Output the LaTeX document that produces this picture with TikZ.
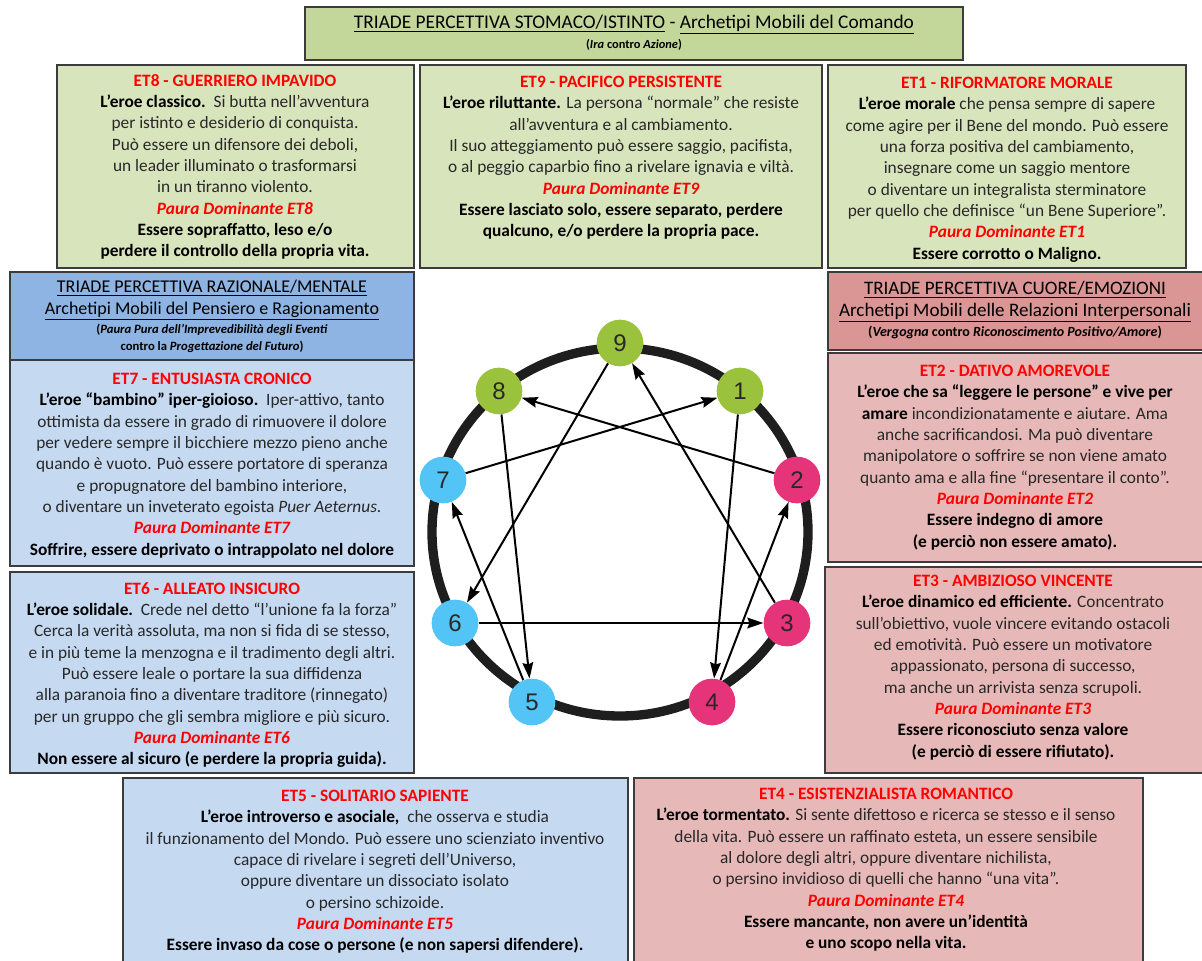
\documentclass[tikz,border=0pt]{standalone}
\usepackage{fontspec}
\setmainfont{Carlito}
\newfontfamily\numfont{Liberation Sans}
\usetikzlibrary{arrows.meta}
\definecolor{greenheadcolor}{RGB}{196,215,155}
\definecolor{greencolor}{RGB}{216,228,188}
\definecolor{blueheadcolor}{RGB}{141,180,226}
\definecolor{bluecolor}{RGB}{197,217,241}
\definecolor{pinkheadcolor}{RGB}{218,150,148}
\definecolor{pinkcolor}{RGB}{230,184,183}
\definecolor{framecolor}{RGB}{60,60,60}
\definecolor{textcolor}{RGB}{40,40,40}
\definecolor{etred}{RGB}{255,0,0}
\definecolor{ninegreen}{RGB}{155,194,60}
\definecolor{ninepink}{RGB}{229,52,121}
\definecolor{ninecyan}{RGB}{82,196,245}
\definecolor{ringcolor}{RGB}{30,30,30}

\newcommand{\etname}[1]{{\color{etred}\bfseries #1}}
\newcommand{\paura}[1]{{\color{etred}\bfseries\itshape Paura Dominante #1}}
\newcommand{\hero}[1]{{\color{black}\bfseries #1}}

\tikzset{
  boxframe/.style={draw=framecolor, line width=1.1pt},
  boxtext/.style={anchor=north, align=center, inner sep=0pt, text=textcolor,
    font=\fontsize{13}{16}\selectfont},
  headtext/.style={anchor=north, align=center, inner sep=0pt, text=black},
  subtext/.style={anchor=north, align=center, inner sep=0pt, text=black},
  ennea/.style={circle, minimum size=35pt, inner sep=0pt, text=textcolor,
    font=\numfont\fontsize{18}{18}\selectfont},
  link/.style={-{Stealth[length=12pt, width=8pt, inset=1.5pt]}, line width=1.5pt, black},
}

\begin{document}
\begin{tikzpicture}[x=0.75pt, y=-0.75pt]
\path[use as bounding box, fill=white] (0,0) rectangle (1202,960);

% Triade dello stomaco
\draw[boxframe, fill=greenheadcolor] (305,7) rectangle (963,60);
\node[headtext, font=\fontsize{14.5}{17}\selectfont] (stomaco) at (634,15)
  {\underline{TRIADE PERCETTIVA STOMACO/ISTINTO} - \underline{Archetipi Mobili del Comando}};
\node[subtext, font=\fontsize{9.3}{12}\selectfont\bfseries] (stomacosub) at (634,39)
  {(\textit{Ira} contro \textit{Azione})};

\draw[boxframe, fill=greencolor] (57,65) rectangle (414,268); % ET8
\draw[boxframe, fill=greencolor] (420,65) rectangle (822,268); % ET9
\draw[boxframe, fill=greencolor] (828,65) rectangle (1186,268); % ET1

\node[boxtext] (et8) at (235,74) {\etname{ET8 - GUERRIERO IMPAVIDO}\\
\hero{L’eroe classico.}\ \ Si butta nell’avventura\\
per istinto e desiderio di conquista.\\
Può essere un difensore dei deboli,\\
un leader illuminato o trasformarsi\\
in un tiranno violento.\\
\paura{ET8}\\
\hero{Essere sopraffatto, leso e/o}\\
\hero{perdere il controllo della propria vita.}};

\node[boxtext] (et9) at (621,76) {\etname{ET9 - PACIFICO PERSISTENTE}\\
\hero{L’eroe riluttante.} La persona “normale” che resiste\\
all’avventura e al cambiamento.\\
Il suo atteggiamento può essere saggio, pacifista,\\
o al peggio caparbio fino a rivelare ignavia e viltà.\\
\paura{ET9}\\
\hero{Essere lasciato solo, essere separato, perdere}\\
\hero{qualcuno, e/o perdere la propria pace.}};

\node[boxtext] (et1) at (1007,77) {\etname{ET1 - RIFORMATORE MORALE}\\
\hero{L’eroe morale} che pensa sempre di sapere\\
come agire per il Bene del mondo. Può essere\\
una forza positiva del cambiamento,\\
insegnare come un saggio mentore\\
o diventare un integralista sterminatore\\
per quello che definisce “un Bene Superiore”.\\
\paura{ET1}\\
\hero{Essere corrotto o Maligno.}};

% Triade della mente
\draw[boxframe, fill=blueheadcolor] (10,272) rectangle (414,360);
\node[headtext, font=\fontsize{13.5}{16.5}\selectfont] (mente) at (212,280)
  {\underline{TRIADE PERCETTIVA RAZIONALE/MENTALE}\\
   \underline{Archetipi Mobili del Pensiero e Ragionamento}};
\node[subtext, font=\fontsize{9.5}{12.8}\selectfont\bfseries] (mentesub) at (212,324)
  {(\textit{Paura Pura dell’Imprevedibilità degli Eventi}\\
   contro la \textit{Progettazione del Futuro})};

\draw[boxframe, fill=bluecolor] (10,360) rectangle (414,566); % ET7
\draw[boxframe, fill=bluecolor] (10,572) rectangle (414,773); % ET6
\draw[boxframe, fill=bluecolor] (123,778) rectangle (628,964); % ET5

\node[boxtext] (et7) at (212,373) {\etname{ET7 - ENTUSIASTA CRONICO}\\
\hero{L’eroe “bambino” iper-gioioso.}\ \ Iper-attivo, tanto\\
ottimista da essere in grado di rimuovere il dolore\\
per vedere sempre il bicchiere mezzo pieno anche\\
quando è vuoto. Può essere portatore di speranza\\
e propugnatore del bambino interiore,\\
o diventare un inveterato egoista \textit{Puer Aeternus}.\\
\paura{ET7}\\
\hero{Soffrire, essere deprivato o intrappolato nel dolore}};

\node[boxtext] (et6) at (212,582) {\etname{ET6 - ALLEATO INSICURO}\\
\hero{L’eroe solidale.}\ \ Crede nel detto “l’unione fa la forza”\\
Cerca la verità assoluta, ma non si fida di se stesso,\\
e in più teme la menzogna e il tradimento degli altri.\\
Può essere leale o portare la sua diffidenza\\
alla paranoia fino a diventare traditore (rinnegato)\\
per un gruppo che gli sembra migliore e più sicuro.\\
\paura{ET6}\\
\hero{Non essere al sicuro (e perdere la propria guida).}};

\node[boxtext] (et5) at (375,790) {\etname{ET5 - SOLITARIO SAPIENTE}\\
\hero{L’eroe introverso e asociale,}\ \ che osserva e studia\\
il funzionamento del Mondo. Può essere uno scienziato inventivo\\
capace di rivelare i segreti dell’Universo,\\
oppure diventare un dissociato isolato\\
o persino schizoide.\\
\paura{ET5}\\
\hero{Essere invaso da cose o persone (e non sapersi difendere).}};

% Triade del cuore
\draw[boxframe, fill=pinkheadcolor] (828,272) rectangle (1204,350);
\node[headtext, font=\fontsize{14.3}{16.5}\selectfont] (cuore) at (1015,281)
  {\underline{TRIADE PERCETTIVA CUORE/EMOZIONI}\\
   \underline{Archetipi Mobili delle Relazioni Interpersonali}};
\node[subtext, font=\fontsize{10.5}{12.5}\selectfont\bfseries] (cuoresub) at (1015,326)
  {(\textit{Vergogna} contro \textit{Riconoscimento Positivo/Amore})};

\draw[boxframe, fill=pinkcolor] (828,353) rectangle (1204,562); % ET2
\draw[boxframe, fill=pinkcolor] (825,567) rectangle (1204,773); % ET3
\draw[boxframe, fill=pinkcolor] (634,778) rectangle (1143,964); % ET4

\node[boxtext] (et2) at (1015,365) {\etname{ET2 - DATIVO AMOREVOLE}\\
\hero{L’eroe che sa “leggere le persone” e vive per}\\
\hero{amare} incondizionatamente e aiutare. Ama\\
anche sacrificandosi. Ma può diventare\\
manipolatore o soffrire se non viene amato\\
quanto ama e alla fine “presentare il conto”.\\
\paura{ET2}\\
\hero{Essere indegno di amore}\\
\hero{(e perciò non essere amato).}};

\node[boxtext] (et3) at (1013,575) {\etname{ET3 - AMBIZIOSO VINCENTE}\\
\hero{L’eroe dinamico ed efficiente.} Concentrato\\
sull’obiettivo, vuole vincere evitando ostacoli\\
ed emotività. Può essere un motivatore\\
appassionato, persona di successo,\\
ma anche un arrivista senza scrupoli.\\
\paura{ET3}\\
\hero{Essere riconosciuto senza valore}\\
\hero{(e perciò di essere rifiutato).}};

\node[boxtext] (et4) at (886,788) {\etname{ET4 - ESISTENZIALISTA ROMANTICO}\\
\hero{L’eroe tormentato.} Si sente difettoso e ricerca se stesso e il senso\\
della vita. Può essere un raffinato esteta, un essere sensibile\\
al dolore degli altri, oppure diventare nichilista,\\
o persino invidioso di quelli che hanno “una vita”.\\
\paura{ET4}\\
\hero{Essere mancante, non avere un’identità}\\
\hero{e uno scopo nella vita.}};

% Enneagramma
\draw[ringcolor, line width=7pt] (620,532) ellipse [x radius=188, y radius=184];

\node[ennea, fill=ninegreen] (n9) at (620,343) {9};
\node[ennea, fill=ninegreen] (n1) at (740,391) {1};
\node[ennea, fill=ninepink] (n2) at (797,480) {2};
\node[ennea, fill=ninepink] (n3) at (787,623) {3};
\node[ennea, fill=ninepink] (n4) at (712,702) {4};
\node[ennea, fill=ninecyan] (n5) at (532,702) {5};
\node[ennea, fill=ninecyan] (n6) at (455,623) {6};
\node[ennea, fill=ninecyan] (n7) at (443,480) {7};
\node[ennea, fill=ninegreen] (n8) at (499,391) {8};

% Frecce 1-4-2-8-5-7-1 e 9-6-3-9
\draw[link] (n1) -- (n4);
\draw[link] (n4) -- (n2);
\draw[link] (n2) -- (n8);
\draw[link] (n8) -- (n5);
\draw[link] (n5) -- (n7);
\draw[link] (n7) -- (n1);
\draw[link] (n9) -- (n6);
\draw[link] (n6) -- (n3);
\draw[link] (n3) -- (n9);
\end{tikzpicture}
\end{document}
